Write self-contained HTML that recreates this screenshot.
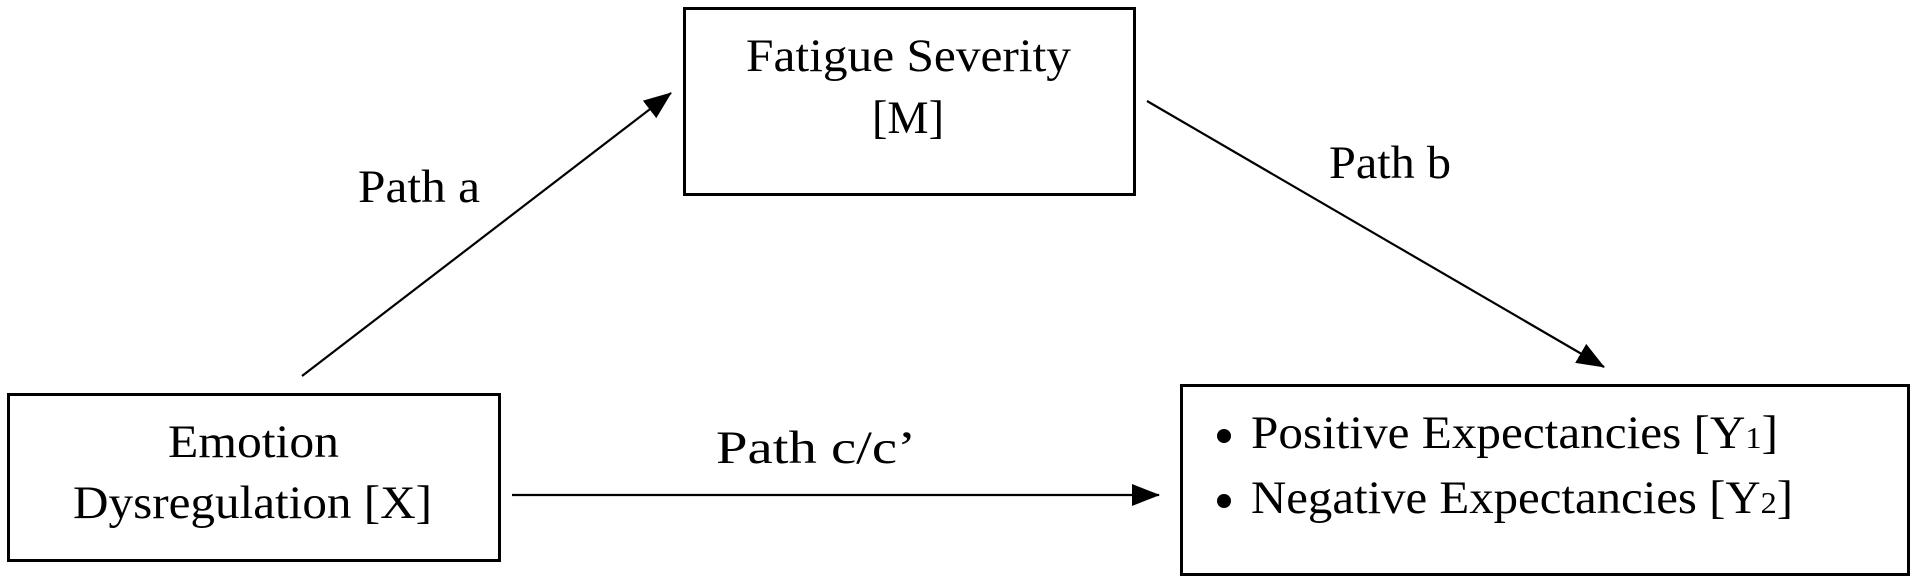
<!DOCTYPE html>
<html><head><meta charset="utf-8"><style>
html,body{margin:0;padding:0;background:#fff;width:1920px;height:586px;overflow:hidden}
svg text{font-family:"Liberation Serif",serif;fill:#000}
</style></head><body>
<svg width="1920" height="586" viewBox="0 0 1920 586" xmlns="http://www.w3.org/2000/svg">
<defs>
<marker id="a2" markerWidth="28" markerHeight="22" refX="27" refY="11" orient="auto" markerUnits="userSpaceOnUse"><path d="M0,0 L28,11 L0,22 z" fill="#000"/></marker></defs>
<rect x="8.5" y="394.5" width="491" height="166" fill="none" stroke="#000" stroke-width="3"/>
<rect x="684.5" y="8.5" width="450" height="186" fill="none" stroke="#000" stroke-width="3"/>
<rect x="1181.5" y="385.5" width="727" height="189" fill="none" stroke="#000" stroke-width="3"/>
<line x1="302" y1="376" x2="671" y2="93" stroke="#000" stroke-width="2.2" marker-end="url(#a2)"/>
<line x1="1147" y1="101" x2="1604" y2="367" stroke="#000" stroke-width="2.2" marker-end="url(#a2)"/>
<line x1="512" y1="495" x2="1159" y2="495" stroke="#000" stroke-width="2.2" marker-end="url(#a2)"/>
<text x="168" y="457" font-size="47" textLength="171" lengthAdjust="spacingAndGlyphs">Emotion</text>
<text x="73" y="518" font-size="47" textLength="359" lengthAdjust="spacingAndGlyphs">Dysregulation [X]</text>
<text x="746" y="71" font-size="47" textLength="325" lengthAdjust="spacingAndGlyphs">Fatigue Severity</text>
<text x="872" y="133" font-size="47" textLength="72" lengthAdjust="spacingAndGlyphs">[M]</text>
<text x="358" y="202" font-size="47" textLength="122" lengthAdjust="spacingAndGlyphs">Path a</text>
<text x="1329" y="178" font-size="47" textLength="122" lengthAdjust="spacingAndGlyphs">Path b</text>
<text x="716" y="463" font-size="47" textLength="200" lengthAdjust="spacingAndGlyphs">Path c/c’</text>
<circle cx="1224" cy="436" r="7" fill="#000"/>
<circle cx="1224" cy="501" r="7" fill="#000"/>
<text x="1251" y="448" font-size="47" textLength="527" lengthAdjust="spacingAndGlyphs">Positive Expectancies [Y<tspan font-size="31">1</tspan>]</text>
<text x="1251" y="513" font-size="47" textLength="542" lengthAdjust="spacingAndGlyphs">Negative Expectancies [Y<tspan font-size="31">2</tspan>]</text>
</svg>
</body></html>
